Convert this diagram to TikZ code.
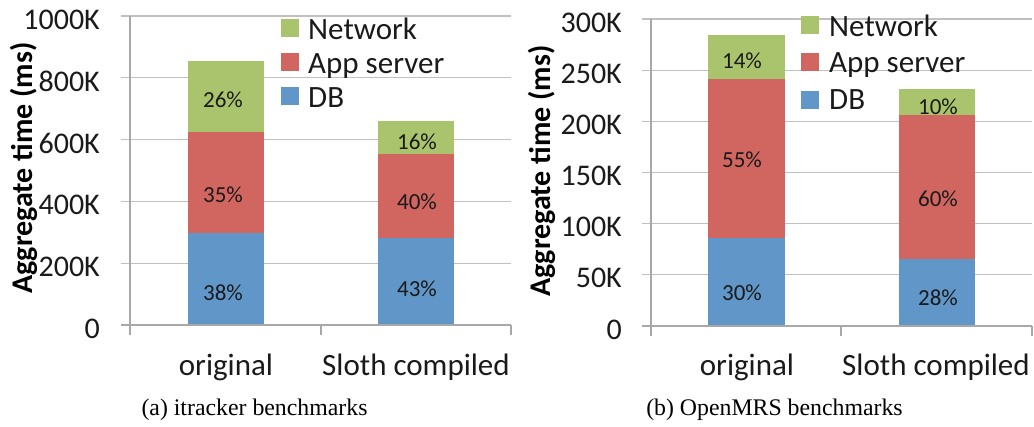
\documentclass[tikz,border=0pt]{standalone}
\usepackage{fontspec}
\setmainfont{Carlito}
\newfontfamily\capfont{Liberation Serif}
\definecolor{netc}{HTML}{A9C46C}
\definecolor{appc}{HTML}{D0665F}
\definecolor{dbc}{HTML}{6096C8}
\definecolor{gridc}{HTML}{C0C0C0}
\definecolor{axisc}{HTML}{A8A8A8}
\definecolor{txtc}{HTML}{1A1A1A}
\tikzset{
  gridln/.style={draw=gridc, line width=1.2pt},
  axisln/.style={draw=axisc, line width=1.2pt},
  ticklbl/.style={anchor=east, inner sep=0pt, text=txtc, font=\fontsize{30}{33}\selectfont},
  catlbl/.style={anchor=base, inner sep=0pt, text=txtc, font=\fontsize{31}{34}\selectfont},
  leglbl/.style={anchor=base west, inner sep=0pt, text=txtc, font=\fontsize{31}{34}\selectfont},
  pctlbl/.style={inner sep=0pt, text=txtc, font=\fontsize{23}{25}\selectfont},
  ytitle/.style={rotate=90, inner sep=0pt, text=black, font=\fontsize{30}{33}\selectfont\bfseries},
  caplbl/.style={anchor=base, inner sep=0pt, text=black, font=\capfont\fontsize{23.8}{26}\selectfont},
}
\begin{document}
\begin{tikzpicture}[x=1pt,y=-1pt]
\useasboundingbox (0,0) rectangle (1034,427);
% ---------- left chart ----------
\foreach \y/\l in {16/1000K,77.8/800K,139.6/600K,201.4/400K,263.2/200K}{
  \draw[gridln] (121,\y) -- (511,\y);
  \node[ticklbl] (lt\l) at (100,\y+3.5) {\l};
}
\node[ticklbl] (lt0) at (100,328.5) {0};
% bars
\fill[dbc]  (188,232.7) rectangle (264,325);
\fill[appc] (188,131.7) rectangle (264,232.7);
\fill[netc] (188,61)    rectangle (264,131.7);
\fill[dbc]  (378,237.7) rectangle (454,325);
\fill[appc] (378,154)   rectangle (454,237.7);
\fill[netc] (378,121)   rectangle (454,154);
% axes
\draw[axisln] (121,325) -- (511,325);
\draw[axisln] (130,16) -- (130,335);
\draw[axisln] (321,325) -- (321,335);
\draw[axisln] (511,325) -- (511,335);
% percentages
\node[pctlbl] (la1) at (223,100) {26\%};
\node[pctlbl] (la2) at (223,195) {35\%};
\node[pctlbl] (la3) at (223,292.7) {38\%};
\node[pctlbl] (lb1) at (417,142) {16\%};
\node[pctlbl] (lb2) at (417,202) {40\%};
\node[pctlbl] (lb3) at (417,289) {43\%};
% legend
\fill[netc] (281,19) rectangle (299,37);
\fill[appc] (281,53) rectangle (299,71);
\fill[dbc]  (281,87) rectangle (299,105);
\node[leglbl] (lln) at (308,40) {Network};
\node[leglbl] (lla) at (308,74) {App server};
\node[leglbl] (lld) at (308,108) {DB};
% category labels
\node[catlbl] (lco) at (226,376) {original};
\node[catlbl] (lcs) at (416,376) {Sloth compiled};
\node[ytitle] (lyt) at (24,168) {Aggregate time (ms)};
\node[caplbl] (lcap) at (254.5,416) {(a) itracker benchmarks};
% ---------- right chart ----------
\foreach \y/\l in {19/300K,70.2/250K,121.3/200K,172.5/150K,223.7/100K,274.8/50K}{
  \draw[gridln] (642,\y) -- (1032,\y);
  \node[ticklbl] (rt\l) at (622,\y+3.5) {\l};
}
\node[ticklbl] (rt0) at (622,329.5) {0};
\fill[dbc]  (708,237.7) rectangle (785,326);
\fill[appc] (708,79)    rectangle (785,237.7);
\fill[netc] (708,35)    rectangle (785,79);
\fill[dbc]  (899,259)   rectangle (975,326);
\fill[appc] (899,115)   rectangle (975,259);
\fill[netc] (899,89)    rectangle (975,115);
\draw[axisln] (642,326) -- (1032,326);
\draw[axisln] (651,19) -- (651,336);
\draw[axisln] (841,326) -- (841,336);
\draw[axisln] (1032,326) -- (1032,336);
\node[pctlbl] (ra1) at (742,61) {14\%};
\node[pctlbl] (ra2) at (742,160) {55\%};
\node[pctlbl] (ra3) at (742,293) {30\%};
\node[pctlbl] (rb1) at (938,107) {10\%};
\node[pctlbl] (rb2) at (938,199) {60\%};
\node[pctlbl] (rb3) at (938,298) {28\%};
\fill[netc] (801,16) rectangle (819,34);
\fill[appc] (801,53) rectangle (819,71);
\fill[dbc]  (801,91) rectangle (819,109);
\node[leglbl] (rln) at (829,37) {Network};
\node[leglbl] (rla) at (829,73) {App server};
\node[leglbl] (rld) at (829,110) {DB};
\node[catlbl] (rco) at (747,376) {original};
\node[catlbl] (rcs) at (936,376) {Sloth compiled};
\node[ytitle] (ryt) at (542,171) {Aggregate time (ms)};
\node[caplbl] (rcap) at (774.5,416) {(b) OpenMRS benchmarks};
\end{tikzpicture}
\end{document}
